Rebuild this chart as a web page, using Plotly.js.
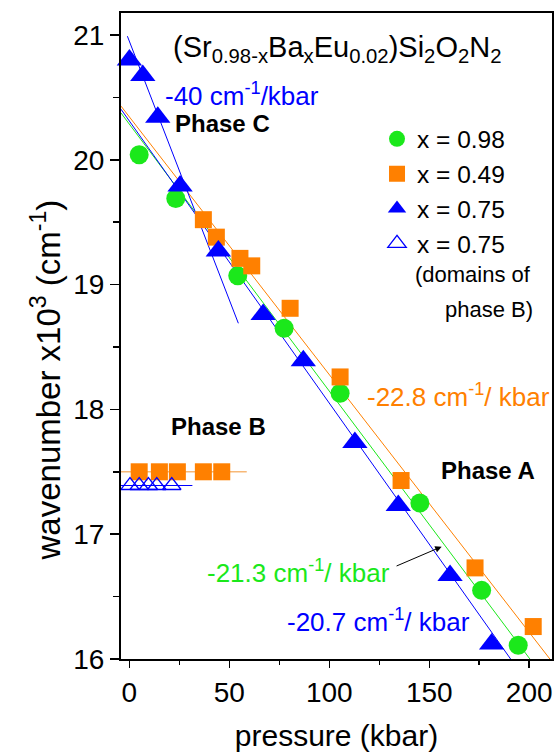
<!DOCTYPE html>
<html>
<head>
<meta charset="utf-8">
<script src="https://cdn.plot.ly/plotly-3.0.1.min.js"></script>
<style>html,body{margin:0;padding:0;background:#fff;}#chart{width:556px;height:752px;}</style>
</head>
<body>
<div id="chart"></div>
<script>
// x = 0.98 (green circles)
const p098 = [4.9, 23.2, 54.2, 77.4, 105.4, 145.3, 176.2, 194.5];
const w098 = [20.04, 19.69, 19.07, 18.65, 18.13, 17.25, 16.55, 16.11];
// x = 0.49 (orange squares), phase A/C branch
const p049 = [37, 43.5, 55.3, 61.2, 80.4, 105.4, 135.9, 172.9, 202];
const w049 = [19.52, 19.38, 19.21, 19.15, 18.81, 18.26, 17.43, 16.73, 16.26];
// x = 0.49, phase B
const p049B = [4.9, 15, 24, 37, 46.2];
const w049B = [17.50, 17.50, 17.50, 17.50, 17.50];
// x = 0.75 (blue filled triangles)
const p075 = [0, 6.7, 14.2, 25.35, 44.5, 66.9, 87, 112.8, 134.5, 160.4, 181.2];
const w075 = [20.80, 20.675, 20.34, 19.79, 19.27, 18.76, 18.39, 17.735, 17.23, 16.67, 16.12];
// x = 0.75 domains of phase B (open triangles)
const p075B = [0.3, 4.9, 9.5, 13.7, 21.2];
const w075B = [17.39, 17.39, 17.39, 17.39, 17.39];
// linear fits (end points)
const fitOrangeP = [-4.2, 210.35], fitOrangeW = [20.43, 16.0];
const fitGreenP  = [-4.2, 200.35], fitGreenW  = [20.375, 16.0];
const fitBlueP   = [-4.2, 190.7],  fitBlueW   = [20.405, 16.0];
const fitSteepP  = [-1, 54.5],     fitSteepW  = [20.99, 18.69];
const phaseBOrangeP = [-4.2, 58.7], phaseBOrangeW = [17.50, 17.50];
const phaseBBlueP   = [-4.2, 31.5], phaseBBlueW   = [17.39, 17.39];
// axis ticks
const xTicks = [0, 50, 100, 150, 200];
const yTicks = [16, 17, 18, 19, 20, 21];

const GREEN = '#1be81b', ORANGE = '#ff8000', BLUE = '#0000ff';
const FONT = 'Liberation Sans, Arial, Helvetica, sans-serif';

function line(x, y, color, w) {
  return {x: x, y: y, mode: 'lines', type: 'scatter', showlegend: false, hoverinfo: 'skip',
          line: {color: color, width: w || 1}};
}

const data = [
  line(fitOrangeP, fitOrangeW, ORANGE, 1),
  line(fitGreenP, fitGreenW, GREEN, 1),
  line(fitBlueP, fitBlueW, BLUE, 1),
  line(fitSteepP, fitSteepW, BLUE, 1),
  line(phaseBOrangeP, phaseBOrangeW, '#f7b877', 1.5),
  line(phaseBBlueP, phaseBBlueW, BLUE, 1.2),
  {x: p098, y: w098, name: 'x = 0.98', mode: 'markers', type: 'scatter',
   marker: {symbol: 'circle', size: 19, color: GREEN}},
  {x: p049, y: w049, name: 'x = 0.49', mode: 'markers', type: 'scatter',
   marker: {symbol: 'square', size: 17, color: ORANGE}},
  {x: p049B, y: w049B, name: 'x = 0.49', mode: 'markers', type: 'scatter', showlegend: false,
   marker: {symbol: 'square', size: 17, color: ORANGE}},
  {x: p075, y: w075, name: 'x = 0.75', mode: 'markers', type: 'scatter', cliponaxis: false,
   marker: {symbol: 'triangle-up', size: 22, color: BLUE}},
  {x: p075B, y: w075B, name: 'x = 0.75', mode: 'markers', type: 'scatter',
   marker: {symbol: 'triangle-up-open', size: 16, color: BLUE, line: {width: 1.3}}}
];

function ann(text, x, y, color, size, opts) {
  return Object.assign({text: text, x: x, y: y, xref: 'x', yref: 'y', showarrow: false,
    xanchor: 'left', yanchor: 'middle', font: {family: FONT, size: size, color: color}}, opts || {});
}

const layout = {
  width: 556, height: 752,
  margin: {l: 121, r: 4, t: 13, b: 93},
  paper_bgcolor: '#fff', plot_bgcolor: '#fff',
  font: {family: FONT, color: '#000'},
  showlegend: true,
  legend: {x: 0.594, y: 0.84, xanchor: 'left', yanchor: 'top', bgcolor: 'rgba(0,0,0,0)',
           font: {family: FONT, size: 24.5, color: '#000'}, itemsizing: 'trace', tracegroupgap: 0},
  xaxis: {range: [-4.2, 211.4], tickvals: xTicks, ticks: 'outside', ticklen: 7, tickwidth: 1.5,
          tickcolor: '#000', showline: true, linewidth: 2, linecolor: '#000', mirror: true,
          showgrid: false, zeroline: false, tickfont: {family: FONT, size: 28, color: '#000'},
          minor: {dtick: 25, ticks: 'outside', ticklen: 4, tickwidth: 1.5, tickcolor: '#000', showgrid: false},
          title: {text: 'pressure (kbar)', font: {family: FONT, size: 30, color: '#000'}, standoff: 18}},
  yaxis: {range: [16, 21.176], tickvals: yTicks, ticks: 'outside', ticklen: 9, tickwidth: 1.5,
          tickcolor: '#000', showline: true, linewidth: 2, linecolor: '#000', mirror: true,
          showgrid: false, zeroline: false, tickfont: {family: FONT, size: 28, color: '#000'},
          minor: {dtick: 0.5, ticks: 'outside', ticklen: 6, tickwidth: 1.5, tickcolor: '#000', showgrid: false}},
  annotations: [
    {text: 'wavenumber x10<sup>3</sup> (cm<sup>-1</sup>)', xref: 'paper', yref: 'paper',
     x: -0.175, y: 0.432, textangle: -90, showarrow: false, xanchor: 'center', yanchor: 'middle',
     font: {family: FONT, size: 33, color: '#000'}},
    ann('(Sr<sub>0.98-x</sub>Ba<sub>x</sub>Eu<sub>0.02</sub>)Si<sub>2</sub>O<sub>2</sub>N<sub>2</sub>', 20.7, 20.89, '#000', 29),
    ann('-40 cm<sup>-1</sup>/kbar', 16.9, 20.525, BLUE, 26),
    ann('<b>Phase C</b>', 21.7, 20.29, '#000', 24),
    ann('<b>Phase B</b>', 20, 17.86, '#000', 24),
    ann('<b>Phase A</b>', 155, 17.51, '#000', 24),
    ann('-22.8 cm<sup>-1</sup>/ kbar', 117.9, 18.115, ORANGE, 26),
    ann('-21.3 cm<sup>-1</sup>/ kbar', 37.9, 16.70, GREEN, 26),
    ann('-20.7 cm<sup>-1</sup>/ kbar', 77.9, 16.307, BLUE, 26),
    ann('(domains of', 202, 19.077, '#000', 22, {xanchor: 'right'}),
    ann('phase B)', 203, 18.80, '#000', 22, {xanchor: 'right'}),
    {text: '', x: 156.2, y: 16.90, ax: 132.9, ay: 16.74, xref: 'x', yref: 'y', axref: 'x', ayref: 'y',
     showarrow: true, arrowhead: 2, arrowsize: 1.3, arrowwidth: 1, arrowcolor: '#000'}
  ]
};

Plotly.newPlot('chart', data, layout, {staticPlot: true, displayModeBar: false});
</script>
</body>
</html>
